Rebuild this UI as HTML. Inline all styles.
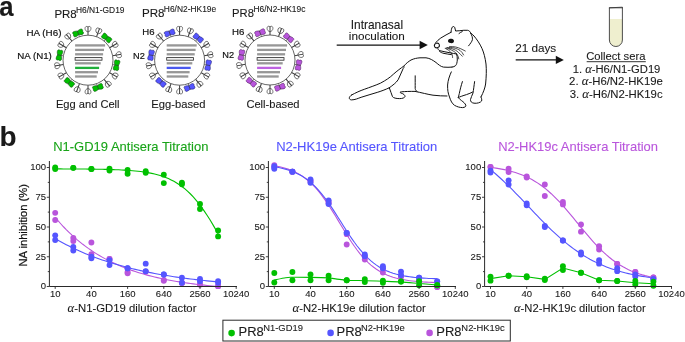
<!DOCTYPE html>
<html><head><meta charset="utf-8"><style>
html,body{margin:0;padding:0;background:#fff;}
svg{display:block;will-change:transform;font-family:"Liberation Sans",sans-serif;}
</style></head><body>
<svg width="685" height="342" viewBox="0 0 685 342">
<rect width="685" height="342" fill="#fff"/>
<g transform="translate(116.56,65.24) rotate(10.0)"><path d="M-1.8,0 C-2.5,-1.4 -3.0,-3.2 -2.6,-4.4 C-2.2,-5.4 -0.8,-5.4 0,-4.8 C0.8,-5.4 2.2,-5.4 2.6,-4.4 C3.0,-3.2 2.5,-1.4 1.8,0 C2.5,1.4 3.0,3.2 2.6,4.4 C2.2,5.4 0.8,5.4 0,4.8 C-0.8,5.4 -2.2,5.4 -2.6,4.4 C-3.0,3.2 -2.5,1.4 -1.8,0 Z" fill="#00c000" stroke="#0b4a0b" stroke-width="0.5"/><line x1="-4" y1="0" x2="2.4" y2="0" stroke="#333" stroke-width="0.6"/></g>
<g transform="translate(114.67,75.60) rotate(30.0)"><path d="M-2.3,-0.9 C-1.3,-2.8 0.9,-3.4 2.2,-2.7 C3.2,-2.1 3.2,-0.7 2.4,-0.3 L2.4,0.3 C3.2,0.7 3.2,2.1 2.2,2.7 C0.9,3.4 -1.3,2.8 -2.3,0.9 Z" fill="#fff" stroke="#333" stroke-width="0.65"/><line x1="-5.8" y1="0" x2="3.0" y2="0" stroke="#3a3a3a" stroke-width="1.0"/></g>
<g transform="translate(107.80,83.79) rotate(50.0)"><path d="M-2.3,-0.9 C-1.3,-2.8 0.9,-3.4 2.2,-2.7 C3.2,-2.1 3.2,-0.7 2.4,-0.3 L2.4,0.3 C3.2,0.7 3.2,2.1 2.2,2.7 C0.9,3.4 -1.3,2.8 -2.3,0.9 Z" fill="#fff" stroke="#333" stroke-width="0.65"/><line x1="-5.8" y1="0" x2="3.0" y2="0" stroke="#3a3a3a" stroke-width="1.0"/></g>
<g transform="translate(97.92,87.45) rotate(70.0)"><path d="M-1.8,0 C-2.5,-1.4 -3.0,-3.2 -2.6,-4.4 C-2.2,-5.4 -0.8,-5.4 0,-4.8 C0.8,-5.4 2.2,-5.4 2.6,-4.4 C3.0,-3.2 2.5,-1.4 1.8,0 C2.5,1.4 3.0,3.2 2.6,4.4 C2.2,5.4 0.8,5.4 0,4.8 C-0.8,5.4 -2.2,5.4 -2.6,4.4 C-3.0,3.2 -2.5,1.4 -1.8,0 Z" fill="#00c000" stroke="#0b4a0b" stroke-width="0.5"/><line x1="-4" y1="0" x2="2.4" y2="0" stroke="#333" stroke-width="0.6"/></g>
<g transform="translate(88.00,91.00) rotate(90.0)"><path d="M-2.3,-0.9 C-1.3,-2.8 0.9,-3.4 2.2,-2.7 C3.2,-2.1 3.2,-0.7 2.4,-0.3 L2.4,0.3 C3.2,0.7 3.2,2.1 2.2,2.7 C0.9,3.4 -1.3,2.8 -2.3,0.9 Z" fill="#fff" stroke="#333" stroke-width="0.65"/><line x1="-5.8" y1="0" x2="3.0" y2="0" stroke="#3a3a3a" stroke-width="1.0"/></g>
<g transform="translate(77.47,89.14) rotate(110.0)"><path d="M-2.3,-0.9 C-1.3,-2.8 0.9,-3.4 2.2,-2.7 C3.2,-2.1 3.2,-0.7 2.4,-0.3 L2.4,0.3 C3.2,0.7 3.2,2.1 2.2,2.7 C0.9,3.4 -1.3,2.8 -2.3,0.9 Z" fill="#fff" stroke="#333" stroke-width="0.65"/><line x1="-5.8" y1="0" x2="3.0" y2="0" stroke="#3a3a3a" stroke-width="1.0"/></g>
<g transform="translate(69.36,82.42) rotate(130.0)"><path d="M-1.8,0 C-2.5,-1.4 -3.0,-3.2 -2.6,-4.4 C-2.2,-5.4 -0.8,-5.4 0,-4.8 C0.8,-5.4 2.2,-5.4 2.6,-4.4 C3.0,-3.2 2.5,-1.4 1.8,0 C2.5,1.4 3.0,3.2 2.6,4.4 C2.2,5.4 0.8,5.4 0,4.8 C-0.8,5.4 -2.2,5.4 -2.6,4.4 C-3.0,3.2 -2.5,1.4 -1.8,0 Z" fill="#00c000" stroke="#0b4a0b" stroke-width="0.5"/><line x1="-4" y1="0" x2="2.4" y2="0" stroke="#333" stroke-width="0.6"/></g>
<g transform="translate(61.33,75.60) rotate(150.0)"><path d="M-2.3,-0.9 C-1.3,-2.8 0.9,-3.4 2.2,-2.7 C3.2,-2.1 3.2,-0.7 2.4,-0.3 L2.4,0.3 C3.2,0.7 3.2,2.1 2.2,2.7 C0.9,3.4 -1.3,2.8 -2.3,0.9 Z" fill="#fff" stroke="#333" stroke-width="0.65"/><line x1="-5.8" y1="0" x2="3.0" y2="0" stroke="#3a3a3a" stroke-width="1.0"/></g>
<g transform="translate(57.67,65.55) rotate(170.0)"><path d="M-2.3,-0.9 C-1.3,-2.8 0.9,-3.4 2.2,-2.7 C3.2,-2.1 3.2,-0.7 2.4,-0.3 L2.4,0.3 C3.2,0.7 3.2,2.1 2.2,2.7 C0.9,3.4 -1.3,2.8 -2.3,0.9 Z" fill="#fff" stroke="#333" stroke-width="0.65"/><line x1="-5.8" y1="0" x2="3.0" y2="0" stroke="#3a3a3a" stroke-width="1.0"/></g>
<g transform="translate(59.44,55.16) rotate(190.0)"><path d="M-1.8,0 C-2.5,-1.4 -3.0,-3.2 -2.6,-4.4 C-2.2,-5.4 -0.8,-5.4 0,-4.8 C0.8,-5.4 2.2,-5.4 2.6,-4.4 C3.0,-3.2 2.5,-1.4 1.8,0 C2.5,1.4 3.0,3.2 2.6,4.4 C2.2,5.4 0.8,5.4 0,4.8 C-0.8,5.4 -2.2,5.4 -2.6,4.4 C-3.0,3.2 -2.5,1.4 -1.8,0 Z" fill="#00c000" stroke="#0b4a0b" stroke-width="0.5"/><line x1="-4" y1="0" x2="2.4" y2="0" stroke="#333" stroke-width="0.6"/></g>
<g transform="translate(61.33,44.80) rotate(210.0)"><path d="M-2.3,-0.9 C-1.3,-2.8 0.9,-3.4 2.2,-2.7 C3.2,-2.1 3.2,-0.7 2.4,-0.3 L2.4,0.3 C3.2,0.7 3.2,2.1 2.2,2.7 C0.9,3.4 -1.3,2.8 -2.3,0.9 Z" fill="#fff" stroke="#333" stroke-width="0.65"/><line x1="-5.8" y1="0" x2="3.0" y2="0" stroke="#3a3a3a" stroke-width="1.0"/></g>
<g transform="translate(68.20,36.61) rotate(230.0)"><path d="M-2.3,-0.9 C-1.3,-2.8 0.9,-3.4 2.2,-2.7 C3.2,-2.1 3.2,-0.7 2.4,-0.3 L2.4,0.3 C3.2,0.7 3.2,2.1 2.2,2.7 C0.9,3.4 -1.3,2.8 -2.3,0.9 Z" fill="#fff" stroke="#333" stroke-width="0.65"/><line x1="-5.8" y1="0" x2="3.0" y2="0" stroke="#3a3a3a" stroke-width="1.0"/></g>
<g transform="translate(78.08,32.95) rotate(250.0)"><path d="M-1.8,0 C-2.5,-1.4 -3.0,-3.2 -2.6,-4.4 C-2.2,-5.4 -0.8,-5.4 0,-4.8 C0.8,-5.4 2.2,-5.4 2.6,-4.4 C3.0,-3.2 2.5,-1.4 1.8,0 C2.5,1.4 3.0,3.2 2.6,4.4 C2.2,5.4 0.8,5.4 0,4.8 C-0.8,5.4 -2.2,5.4 -2.6,4.4 C-3.0,3.2 -2.5,1.4 -1.8,0 Z" fill="#00c000" stroke="#0b4a0b" stroke-width="0.5"/><line x1="-4" y1="0" x2="2.4" y2="0" stroke="#333" stroke-width="0.6"/></g>
<g transform="translate(88.00,29.40) rotate(270.0)"><path d="M-2.3,-0.9 C-1.3,-2.8 0.9,-3.4 2.2,-2.7 C3.2,-2.1 3.2,-0.7 2.4,-0.3 L2.4,0.3 C3.2,0.7 3.2,2.1 2.2,2.7 C0.9,3.4 -1.3,2.8 -2.3,0.9 Z" fill="#fff" stroke="#333" stroke-width="0.65"/><line x1="-5.8" y1="0" x2="3.0" y2="0" stroke="#3a3a3a" stroke-width="1.0"/></g>
<g transform="translate(98.53,31.26) rotate(290.0)"><path d="M-2.3,-0.9 C-1.3,-2.8 0.9,-3.4 2.2,-2.7 C3.2,-2.1 3.2,-0.7 2.4,-0.3 L2.4,0.3 C3.2,0.7 3.2,2.1 2.2,2.7 C0.9,3.4 -1.3,2.8 -2.3,0.9 Z" fill="#fff" stroke="#333" stroke-width="0.65"/><line x1="-5.8" y1="0" x2="3.0" y2="0" stroke="#3a3a3a" stroke-width="1.0"/></g>
<g transform="translate(106.64,37.98) rotate(310.0)"><path d="M-1.8,0 C-2.5,-1.4 -3.0,-3.2 -2.6,-4.4 C-2.2,-5.4 -0.8,-5.4 0,-4.8 C0.8,-5.4 2.2,-5.4 2.6,-4.4 C3.0,-3.2 2.5,-1.4 1.8,0 C2.5,1.4 3.0,3.2 2.6,4.4 C2.2,5.4 0.8,5.4 0,4.8 C-0.8,5.4 -2.2,5.4 -2.6,4.4 C-3.0,3.2 -2.5,1.4 -1.8,0 Z" fill="#00c000" stroke="#0b4a0b" stroke-width="0.5"/><line x1="-4" y1="0" x2="2.4" y2="0" stroke="#333" stroke-width="0.6"/></g>
<g transform="translate(114.67,44.80) rotate(330.0)"><path d="M-2.3,-0.9 C-1.3,-2.8 0.9,-3.4 2.2,-2.7 C3.2,-2.1 3.2,-0.7 2.4,-0.3 L2.4,0.3 C3.2,0.7 3.2,2.1 2.2,2.7 C0.9,3.4 -1.3,2.8 -2.3,0.9 Z" fill="#fff" stroke="#333" stroke-width="0.65"/><line x1="-5.8" y1="0" x2="3.0" y2="0" stroke="#3a3a3a" stroke-width="1.0"/></g>
<g transform="translate(118.33,54.85) rotate(350.0)"><path d="M-2.3,-0.9 C-1.3,-2.8 0.9,-3.4 2.2,-2.7 C3.2,-2.1 3.2,-0.7 2.4,-0.3 L2.4,0.3 C3.2,0.7 3.2,2.1 2.2,2.7 C0.9,3.4 -1.3,2.8 -2.3,0.9 Z" fill="#fff" stroke="#333" stroke-width="0.65"/><line x1="-5.8" y1="0" x2="3.0" y2="0" stroke="#3a3a3a" stroke-width="1.0"/></g>
<circle cx="88.0" cy="60.2" r="25.0" fill="#fff" stroke="#333" stroke-width="0.75"/>
<rect x="75.10" y="44.25" width="30.00" height="2.3" fill="#979797"/>
<rect x="75.10" y="48.75" width="28.90" height="2.3" fill="#979797"/>
<rect x="75.10" y="53.15" width="28.00" height="2.3" fill="#979797"/>
<rect x="75.10" y="57.60" width="26.90" height="2.6" fill="#f0f0f0" stroke="#2a2a2a" stroke-width="0.8"/>
<rect x="75.10" y="62.15" width="25.60" height="2.3" fill="#979797"/>
<rect x="75.10" y="66.75" width="24.00" height="2.3" fill="#1fae3a"/>
<rect x="75.10" y="71.05" width="22.90" height="2.3" fill="#979797"/>
<rect x="75.10" y="75.35" width="21.60" height="2.3" fill="#979797"/>
<g transform="translate(208.16,65.24) rotate(10.0)"><path d="M-1.8,0 C-2.5,-1.4 -3.0,-3.2 -2.6,-4.4 C-2.2,-5.4 -0.8,-5.4 0,-4.8 C0.8,-5.4 2.2,-5.4 2.6,-4.4 C3.0,-3.2 2.5,-1.4 1.8,0 C2.5,1.4 3.0,3.2 2.6,4.4 C2.2,5.4 0.8,5.4 0,4.8 C-0.8,5.4 -2.2,5.4 -2.6,4.4 C-3.0,3.2 -2.5,1.4 -1.8,0 Z" fill="#5555ff" stroke="#1c1c6a" stroke-width="0.5"/><line x1="-4" y1="0" x2="2.4" y2="0" stroke="#333" stroke-width="0.6"/></g>
<g transform="translate(206.27,75.60) rotate(30.0)"><path d="M-2.3,-0.9 C-1.3,-2.8 0.9,-3.4 2.2,-2.7 C3.2,-2.1 3.2,-0.7 2.4,-0.3 L2.4,0.3 C3.2,0.7 3.2,2.1 2.2,2.7 C0.9,3.4 -1.3,2.8 -2.3,0.9 Z" fill="#fff" stroke="#333" stroke-width="0.65"/><line x1="-5.8" y1="0" x2="3.0" y2="0" stroke="#3a3a3a" stroke-width="1.0"/></g>
<g transform="translate(199.40,83.79) rotate(50.0)"><path d="M-2.3,-0.9 C-1.3,-2.8 0.9,-3.4 2.2,-2.7 C3.2,-2.1 3.2,-0.7 2.4,-0.3 L2.4,0.3 C3.2,0.7 3.2,2.1 2.2,2.7 C0.9,3.4 -1.3,2.8 -2.3,0.9 Z" fill="#fff" stroke="#333" stroke-width="0.65"/><line x1="-5.8" y1="0" x2="3.0" y2="0" stroke="#3a3a3a" stroke-width="1.0"/></g>
<g transform="translate(189.52,87.45) rotate(70.0)"><path d="M-1.8,0 C-2.5,-1.4 -3.0,-3.2 -2.6,-4.4 C-2.2,-5.4 -0.8,-5.4 0,-4.8 C0.8,-5.4 2.2,-5.4 2.6,-4.4 C3.0,-3.2 2.5,-1.4 1.8,0 C2.5,1.4 3.0,3.2 2.6,4.4 C2.2,5.4 0.8,5.4 0,4.8 C-0.8,5.4 -2.2,5.4 -2.6,4.4 C-3.0,3.2 -2.5,1.4 -1.8,0 Z" fill="#5555ff" stroke="#1c1c6a" stroke-width="0.5"/><line x1="-4" y1="0" x2="2.4" y2="0" stroke="#333" stroke-width="0.6"/></g>
<g transform="translate(179.60,91.00) rotate(90.0)"><path d="M-2.3,-0.9 C-1.3,-2.8 0.9,-3.4 2.2,-2.7 C3.2,-2.1 3.2,-0.7 2.4,-0.3 L2.4,0.3 C3.2,0.7 3.2,2.1 2.2,2.7 C0.9,3.4 -1.3,2.8 -2.3,0.9 Z" fill="#fff" stroke="#333" stroke-width="0.65"/><line x1="-5.8" y1="0" x2="3.0" y2="0" stroke="#3a3a3a" stroke-width="1.0"/></g>
<g transform="translate(169.07,89.14) rotate(110.0)"><path d="M-2.3,-0.9 C-1.3,-2.8 0.9,-3.4 2.2,-2.7 C3.2,-2.1 3.2,-0.7 2.4,-0.3 L2.4,0.3 C3.2,0.7 3.2,2.1 2.2,2.7 C0.9,3.4 -1.3,2.8 -2.3,0.9 Z" fill="#fff" stroke="#333" stroke-width="0.65"/><line x1="-5.8" y1="0" x2="3.0" y2="0" stroke="#3a3a3a" stroke-width="1.0"/></g>
<g transform="translate(160.96,82.42) rotate(130.0)"><path d="M-1.8,0 C-2.5,-1.4 -3.0,-3.2 -2.6,-4.4 C-2.2,-5.4 -0.8,-5.4 0,-4.8 C0.8,-5.4 2.2,-5.4 2.6,-4.4 C3.0,-3.2 2.5,-1.4 1.8,0 C2.5,1.4 3.0,3.2 2.6,4.4 C2.2,5.4 0.8,5.4 0,4.8 C-0.8,5.4 -2.2,5.4 -2.6,4.4 C-3.0,3.2 -2.5,1.4 -1.8,0 Z" fill="#5555ff" stroke="#1c1c6a" stroke-width="0.5"/><line x1="-4" y1="0" x2="2.4" y2="0" stroke="#333" stroke-width="0.6"/></g>
<g transform="translate(152.93,75.60) rotate(150.0)"><path d="M-2.3,-0.9 C-1.3,-2.8 0.9,-3.4 2.2,-2.7 C3.2,-2.1 3.2,-0.7 2.4,-0.3 L2.4,0.3 C3.2,0.7 3.2,2.1 2.2,2.7 C0.9,3.4 -1.3,2.8 -2.3,0.9 Z" fill="#fff" stroke="#333" stroke-width="0.65"/><line x1="-5.8" y1="0" x2="3.0" y2="0" stroke="#3a3a3a" stroke-width="1.0"/></g>
<g transform="translate(149.27,65.55) rotate(170.0)"><path d="M-2.3,-0.9 C-1.3,-2.8 0.9,-3.4 2.2,-2.7 C3.2,-2.1 3.2,-0.7 2.4,-0.3 L2.4,0.3 C3.2,0.7 3.2,2.1 2.2,2.7 C0.9,3.4 -1.3,2.8 -2.3,0.9 Z" fill="#fff" stroke="#333" stroke-width="0.65"/><line x1="-5.8" y1="0" x2="3.0" y2="0" stroke="#3a3a3a" stroke-width="1.0"/></g>
<g transform="translate(151.04,55.16) rotate(190.0)"><path d="M-1.8,0 C-2.5,-1.4 -3.0,-3.2 -2.6,-4.4 C-2.2,-5.4 -0.8,-5.4 0,-4.8 C0.8,-5.4 2.2,-5.4 2.6,-4.4 C3.0,-3.2 2.5,-1.4 1.8,0 C2.5,1.4 3.0,3.2 2.6,4.4 C2.2,5.4 0.8,5.4 0,4.8 C-0.8,5.4 -2.2,5.4 -2.6,4.4 C-3.0,3.2 -2.5,1.4 -1.8,0 Z" fill="#5555ff" stroke="#1c1c6a" stroke-width="0.5"/><line x1="-4" y1="0" x2="2.4" y2="0" stroke="#333" stroke-width="0.6"/></g>
<g transform="translate(152.93,44.80) rotate(210.0)"><path d="M-2.3,-0.9 C-1.3,-2.8 0.9,-3.4 2.2,-2.7 C3.2,-2.1 3.2,-0.7 2.4,-0.3 L2.4,0.3 C3.2,0.7 3.2,2.1 2.2,2.7 C0.9,3.4 -1.3,2.8 -2.3,0.9 Z" fill="#fff" stroke="#333" stroke-width="0.65"/><line x1="-5.8" y1="0" x2="3.0" y2="0" stroke="#3a3a3a" stroke-width="1.0"/></g>
<g transform="translate(159.80,36.61) rotate(230.0)"><path d="M-2.3,-0.9 C-1.3,-2.8 0.9,-3.4 2.2,-2.7 C3.2,-2.1 3.2,-0.7 2.4,-0.3 L2.4,0.3 C3.2,0.7 3.2,2.1 2.2,2.7 C0.9,3.4 -1.3,2.8 -2.3,0.9 Z" fill="#fff" stroke="#333" stroke-width="0.65"/><line x1="-5.8" y1="0" x2="3.0" y2="0" stroke="#3a3a3a" stroke-width="1.0"/></g>
<g transform="translate(169.68,32.95) rotate(250.0)"><path d="M-1.8,0 C-2.5,-1.4 -3.0,-3.2 -2.6,-4.4 C-2.2,-5.4 -0.8,-5.4 0,-4.8 C0.8,-5.4 2.2,-5.4 2.6,-4.4 C3.0,-3.2 2.5,-1.4 1.8,0 C2.5,1.4 3.0,3.2 2.6,4.4 C2.2,5.4 0.8,5.4 0,4.8 C-0.8,5.4 -2.2,5.4 -2.6,4.4 C-3.0,3.2 -2.5,1.4 -1.8,0 Z" fill="#5555ff" stroke="#1c1c6a" stroke-width="0.5"/><line x1="-4" y1="0" x2="2.4" y2="0" stroke="#333" stroke-width="0.6"/></g>
<g transform="translate(179.60,29.40) rotate(270.0)"><path d="M-2.3,-0.9 C-1.3,-2.8 0.9,-3.4 2.2,-2.7 C3.2,-2.1 3.2,-0.7 2.4,-0.3 L2.4,0.3 C3.2,0.7 3.2,2.1 2.2,2.7 C0.9,3.4 -1.3,2.8 -2.3,0.9 Z" fill="#fff" stroke="#333" stroke-width="0.65"/><line x1="-5.8" y1="0" x2="3.0" y2="0" stroke="#3a3a3a" stroke-width="1.0"/></g>
<g transform="translate(190.13,31.26) rotate(290.0)"><path d="M-2.3,-0.9 C-1.3,-2.8 0.9,-3.4 2.2,-2.7 C3.2,-2.1 3.2,-0.7 2.4,-0.3 L2.4,0.3 C3.2,0.7 3.2,2.1 2.2,2.7 C0.9,3.4 -1.3,2.8 -2.3,0.9 Z" fill="#fff" stroke="#333" stroke-width="0.65"/><line x1="-5.8" y1="0" x2="3.0" y2="0" stroke="#3a3a3a" stroke-width="1.0"/></g>
<g transform="translate(198.24,37.98) rotate(310.0)"><path d="M-1.8,0 C-2.5,-1.4 -3.0,-3.2 -2.6,-4.4 C-2.2,-5.4 -0.8,-5.4 0,-4.8 C0.8,-5.4 2.2,-5.4 2.6,-4.4 C3.0,-3.2 2.5,-1.4 1.8,0 C2.5,1.4 3.0,3.2 2.6,4.4 C2.2,5.4 0.8,5.4 0,4.8 C-0.8,5.4 -2.2,5.4 -2.6,4.4 C-3.0,3.2 -2.5,1.4 -1.8,0 Z" fill="#5555ff" stroke="#1c1c6a" stroke-width="0.5"/><line x1="-4" y1="0" x2="2.4" y2="0" stroke="#333" stroke-width="0.6"/></g>
<g transform="translate(206.27,44.80) rotate(330.0)"><path d="M-2.3,-0.9 C-1.3,-2.8 0.9,-3.4 2.2,-2.7 C3.2,-2.1 3.2,-0.7 2.4,-0.3 L2.4,0.3 C3.2,0.7 3.2,2.1 2.2,2.7 C0.9,3.4 -1.3,2.8 -2.3,0.9 Z" fill="#fff" stroke="#333" stroke-width="0.65"/><line x1="-5.8" y1="0" x2="3.0" y2="0" stroke="#3a3a3a" stroke-width="1.0"/></g>
<g transform="translate(209.93,54.85) rotate(350.0)"><path d="M-2.3,-0.9 C-1.3,-2.8 0.9,-3.4 2.2,-2.7 C3.2,-2.1 3.2,-0.7 2.4,-0.3 L2.4,0.3 C3.2,0.7 3.2,2.1 2.2,2.7 C0.9,3.4 -1.3,2.8 -2.3,0.9 Z" fill="#fff" stroke="#333" stroke-width="0.65"/><line x1="-5.8" y1="0" x2="3.0" y2="0" stroke="#3a3a3a" stroke-width="1.0"/></g>
<circle cx="179.6" cy="60.2" r="25.0" fill="#fff" stroke="#333" stroke-width="0.75"/>
<rect x="166.70" y="44.25" width="30.00" height="2.3" fill="#979797"/>
<rect x="166.70" y="48.75" width="28.90" height="2.3" fill="#979797"/>
<rect x="166.70" y="53.15" width="28.00" height="2.3" fill="#979797"/>
<rect x="166.70" y="57.60" width="26.90" height="2.6" fill="#f0f0f0" stroke="#2a2a2a" stroke-width="0.8"/>
<rect x="166.70" y="62.15" width="25.60" height="2.3" fill="#979797"/>
<rect x="166.70" y="66.75" width="24.00" height="2.3" fill="#4a58ee"/>
<rect x="166.70" y="71.05" width="22.90" height="2.3" fill="#979797"/>
<rect x="166.70" y="75.35" width="21.60" height="2.3" fill="#979797"/>
<g transform="translate(298.56,65.04) rotate(10.0)"><path d="M-1.8,0 C-2.5,-1.4 -3.0,-3.2 -2.6,-4.4 C-2.2,-5.4 -0.8,-5.4 0,-4.8 C0.8,-5.4 2.2,-5.4 2.6,-4.4 C3.0,-3.2 2.5,-1.4 1.8,0 C2.5,1.4 3.0,3.2 2.6,4.4 C2.2,5.4 0.8,5.4 0,4.8 C-0.8,5.4 -2.2,5.4 -2.6,4.4 C-3.0,3.2 -2.5,1.4 -1.8,0 Z" fill="#b955dc" stroke="#4a1a5a" stroke-width="0.5"/><line x1="-4" y1="0" x2="2.4" y2="0" stroke="#333" stroke-width="0.6"/></g>
<g transform="translate(296.67,75.40) rotate(30.0)"><path d="M-2.3,-0.9 C-1.3,-2.8 0.9,-3.4 2.2,-2.7 C3.2,-2.1 3.2,-0.7 2.4,-0.3 L2.4,0.3 C3.2,0.7 3.2,2.1 2.2,2.7 C0.9,3.4 -1.3,2.8 -2.3,0.9 Z" fill="#fff" stroke="#333" stroke-width="0.65"/><line x1="-5.8" y1="0" x2="3.0" y2="0" stroke="#3a3a3a" stroke-width="1.0"/></g>
<g transform="translate(289.80,83.59) rotate(50.0)"><path d="M-2.3,-0.9 C-1.3,-2.8 0.9,-3.4 2.2,-2.7 C3.2,-2.1 3.2,-0.7 2.4,-0.3 L2.4,0.3 C3.2,0.7 3.2,2.1 2.2,2.7 C0.9,3.4 -1.3,2.8 -2.3,0.9 Z" fill="#fff" stroke="#333" stroke-width="0.65"/><line x1="-5.8" y1="0" x2="3.0" y2="0" stroke="#3a3a3a" stroke-width="1.0"/></g>
<g transform="translate(279.92,87.25) rotate(70.0)"><path d="M-1.8,0 C-2.5,-1.4 -3.0,-3.2 -2.6,-4.4 C-2.2,-5.4 -0.8,-5.4 0,-4.8 C0.8,-5.4 2.2,-5.4 2.6,-4.4 C3.0,-3.2 2.5,-1.4 1.8,0 C2.5,1.4 3.0,3.2 2.6,4.4 C2.2,5.4 0.8,5.4 0,4.8 C-0.8,5.4 -2.2,5.4 -2.6,4.4 C-3.0,3.2 -2.5,1.4 -1.8,0 Z" fill="#b955dc" stroke="#4a1a5a" stroke-width="0.5"/><line x1="-4" y1="0" x2="2.4" y2="0" stroke="#333" stroke-width="0.6"/></g>
<g transform="translate(270.00,90.80) rotate(90.0)"><path d="M-2.3,-0.9 C-1.3,-2.8 0.9,-3.4 2.2,-2.7 C3.2,-2.1 3.2,-0.7 2.4,-0.3 L2.4,0.3 C3.2,0.7 3.2,2.1 2.2,2.7 C0.9,3.4 -1.3,2.8 -2.3,0.9 Z" fill="#fff" stroke="#333" stroke-width="0.65"/><line x1="-5.8" y1="0" x2="3.0" y2="0" stroke="#3a3a3a" stroke-width="1.0"/></g>
<g transform="translate(259.47,88.94) rotate(110.0)"><path d="M-2.3,-0.9 C-1.3,-2.8 0.9,-3.4 2.2,-2.7 C3.2,-2.1 3.2,-0.7 2.4,-0.3 L2.4,0.3 C3.2,0.7 3.2,2.1 2.2,2.7 C0.9,3.4 -1.3,2.8 -2.3,0.9 Z" fill="#fff" stroke="#333" stroke-width="0.65"/><line x1="-5.8" y1="0" x2="3.0" y2="0" stroke="#3a3a3a" stroke-width="1.0"/></g>
<g transform="translate(251.36,82.22) rotate(130.0)"><path d="M-1.8,0 C-2.5,-1.4 -3.0,-3.2 -2.6,-4.4 C-2.2,-5.4 -0.8,-5.4 0,-4.8 C0.8,-5.4 2.2,-5.4 2.6,-4.4 C3.0,-3.2 2.5,-1.4 1.8,0 C2.5,1.4 3.0,3.2 2.6,4.4 C2.2,5.4 0.8,5.4 0,4.8 C-0.8,5.4 -2.2,5.4 -2.6,4.4 C-3.0,3.2 -2.5,1.4 -1.8,0 Z" fill="#b955dc" stroke="#4a1a5a" stroke-width="0.5"/><line x1="-4" y1="0" x2="2.4" y2="0" stroke="#333" stroke-width="0.6"/></g>
<g transform="translate(243.33,75.40) rotate(150.0)"><path d="M-2.3,-0.9 C-1.3,-2.8 0.9,-3.4 2.2,-2.7 C3.2,-2.1 3.2,-0.7 2.4,-0.3 L2.4,0.3 C3.2,0.7 3.2,2.1 2.2,2.7 C0.9,3.4 -1.3,2.8 -2.3,0.9 Z" fill="#fff" stroke="#333" stroke-width="0.65"/><line x1="-5.8" y1="0" x2="3.0" y2="0" stroke="#3a3a3a" stroke-width="1.0"/></g>
<g transform="translate(239.67,65.35) rotate(170.0)"><path d="M-2.3,-0.9 C-1.3,-2.8 0.9,-3.4 2.2,-2.7 C3.2,-2.1 3.2,-0.7 2.4,-0.3 L2.4,0.3 C3.2,0.7 3.2,2.1 2.2,2.7 C0.9,3.4 -1.3,2.8 -2.3,0.9 Z" fill="#fff" stroke="#333" stroke-width="0.65"/><line x1="-5.8" y1="0" x2="3.0" y2="0" stroke="#3a3a3a" stroke-width="1.0"/></g>
<g transform="translate(241.44,54.96) rotate(190.0)"><path d="M-1.8,0 C-2.5,-1.4 -3.0,-3.2 -2.6,-4.4 C-2.2,-5.4 -0.8,-5.4 0,-4.8 C0.8,-5.4 2.2,-5.4 2.6,-4.4 C3.0,-3.2 2.5,-1.4 1.8,0 C2.5,1.4 3.0,3.2 2.6,4.4 C2.2,5.4 0.8,5.4 0,4.8 C-0.8,5.4 -2.2,5.4 -2.6,4.4 C-3.0,3.2 -2.5,1.4 -1.8,0 Z" fill="#b955dc" stroke="#4a1a5a" stroke-width="0.5"/><line x1="-4" y1="0" x2="2.4" y2="0" stroke="#333" stroke-width="0.6"/></g>
<g transform="translate(243.33,44.60) rotate(210.0)"><path d="M-2.3,-0.9 C-1.3,-2.8 0.9,-3.4 2.2,-2.7 C3.2,-2.1 3.2,-0.7 2.4,-0.3 L2.4,0.3 C3.2,0.7 3.2,2.1 2.2,2.7 C0.9,3.4 -1.3,2.8 -2.3,0.9 Z" fill="#fff" stroke="#333" stroke-width="0.65"/><line x1="-5.8" y1="0" x2="3.0" y2="0" stroke="#3a3a3a" stroke-width="1.0"/></g>
<g transform="translate(250.20,36.41) rotate(230.0)"><path d="M-2.3,-0.9 C-1.3,-2.8 0.9,-3.4 2.2,-2.7 C3.2,-2.1 3.2,-0.7 2.4,-0.3 L2.4,0.3 C3.2,0.7 3.2,2.1 2.2,2.7 C0.9,3.4 -1.3,2.8 -2.3,0.9 Z" fill="#fff" stroke="#333" stroke-width="0.65"/><line x1="-5.8" y1="0" x2="3.0" y2="0" stroke="#3a3a3a" stroke-width="1.0"/></g>
<g transform="translate(260.08,32.75) rotate(250.0)"><path d="M-1.8,0 C-2.5,-1.4 -3.0,-3.2 -2.6,-4.4 C-2.2,-5.4 -0.8,-5.4 0,-4.8 C0.8,-5.4 2.2,-5.4 2.6,-4.4 C3.0,-3.2 2.5,-1.4 1.8,0 C2.5,1.4 3.0,3.2 2.6,4.4 C2.2,5.4 0.8,5.4 0,4.8 C-0.8,5.4 -2.2,5.4 -2.6,4.4 C-3.0,3.2 -2.5,1.4 -1.8,0 Z" fill="#b955dc" stroke="#4a1a5a" stroke-width="0.5"/><line x1="-4" y1="0" x2="2.4" y2="0" stroke="#333" stroke-width="0.6"/></g>
<g transform="translate(270.00,29.20) rotate(270.0)"><path d="M-2.3,-0.9 C-1.3,-2.8 0.9,-3.4 2.2,-2.7 C3.2,-2.1 3.2,-0.7 2.4,-0.3 L2.4,0.3 C3.2,0.7 3.2,2.1 2.2,2.7 C0.9,3.4 -1.3,2.8 -2.3,0.9 Z" fill="#fff" stroke="#333" stroke-width="0.65"/><line x1="-5.8" y1="0" x2="3.0" y2="0" stroke="#3a3a3a" stroke-width="1.0"/></g>
<g transform="translate(280.53,31.06) rotate(290.0)"><path d="M-2.3,-0.9 C-1.3,-2.8 0.9,-3.4 2.2,-2.7 C3.2,-2.1 3.2,-0.7 2.4,-0.3 L2.4,0.3 C3.2,0.7 3.2,2.1 2.2,2.7 C0.9,3.4 -1.3,2.8 -2.3,0.9 Z" fill="#fff" stroke="#333" stroke-width="0.65"/><line x1="-5.8" y1="0" x2="3.0" y2="0" stroke="#3a3a3a" stroke-width="1.0"/></g>
<g transform="translate(288.64,37.78) rotate(310.0)"><path d="M-1.8,0 C-2.5,-1.4 -3.0,-3.2 -2.6,-4.4 C-2.2,-5.4 -0.8,-5.4 0,-4.8 C0.8,-5.4 2.2,-5.4 2.6,-4.4 C3.0,-3.2 2.5,-1.4 1.8,0 C2.5,1.4 3.0,3.2 2.6,4.4 C2.2,5.4 0.8,5.4 0,4.8 C-0.8,5.4 -2.2,5.4 -2.6,4.4 C-3.0,3.2 -2.5,1.4 -1.8,0 Z" fill="#b955dc" stroke="#4a1a5a" stroke-width="0.5"/><line x1="-4" y1="0" x2="2.4" y2="0" stroke="#333" stroke-width="0.6"/></g>
<g transform="translate(296.67,44.60) rotate(330.0)"><path d="M-2.3,-0.9 C-1.3,-2.8 0.9,-3.4 2.2,-2.7 C3.2,-2.1 3.2,-0.7 2.4,-0.3 L2.4,0.3 C3.2,0.7 3.2,2.1 2.2,2.7 C0.9,3.4 -1.3,2.8 -2.3,0.9 Z" fill="#fff" stroke="#333" stroke-width="0.65"/><line x1="-5.8" y1="0" x2="3.0" y2="0" stroke="#3a3a3a" stroke-width="1.0"/></g>
<g transform="translate(300.33,54.65) rotate(350.0)"><path d="M-2.3,-0.9 C-1.3,-2.8 0.9,-3.4 2.2,-2.7 C3.2,-2.1 3.2,-0.7 2.4,-0.3 L2.4,0.3 C3.2,0.7 3.2,2.1 2.2,2.7 C0.9,3.4 -1.3,2.8 -2.3,0.9 Z" fill="#fff" stroke="#333" stroke-width="0.65"/><line x1="-5.8" y1="0" x2="3.0" y2="0" stroke="#3a3a3a" stroke-width="1.0"/></g>
<circle cx="270.0" cy="60.0" r="25.0" fill="#fff" stroke="#333" stroke-width="0.75"/>
<rect x="257.10" y="44.25" width="30.00" height="2.3" fill="#979797"/>
<rect x="257.10" y="48.75" width="28.90" height="2.3" fill="#979797"/>
<rect x="257.10" y="53.15" width="28.00" height="2.3" fill="#979797"/>
<rect x="257.10" y="57.60" width="26.90" height="2.6" fill="#f0f0f0" stroke="#2a2a2a" stroke-width="0.8"/>
<rect x="257.10" y="62.15" width="25.60" height="2.3" fill="#979797"/>
<rect x="257.10" y="66.75" width="24.00" height="2.3" fill="#bd62e0"/>
<rect x="257.10" y="71.05" width="22.90" height="2.3" fill="#979797"/>
<rect x="257.10" y="75.35" width="21.60" height="2.3" fill="#979797"/>
<line x1="336.7" y1="45.1" x2="421" y2="45.1" stroke="#111" stroke-width="1.3"/>
<path d="M419.6,40.7 L427.8,45.1 L419.6,49.3 Z" fill="#111"/>
<line x1="515.7" y1="59.9" x2="557" y2="59.9" stroke="#111" stroke-width="1.3"/>
<path d="M555.8,55.8 L563.8,59.9 L555.8,64.1 Z" fill="#111"/>

<g fill="none" stroke="#111" stroke-width="1.0" stroke-linecap="round" stroke-linejoin="round">
<!-- tail + back -->
<path d="M351.4,95.1 C356,92.6 360,90.8 364.3,89.3 C370,87.2 376,85.2 380.4,83.2 C386,80.2 390,77.5 393.3,74.3 C397,71 401,68 403.8,66.1 C406,63.5 408.5,61.5 411,60 C414,58.6 417,58 420,57.8 C422,57.7 424,57.7 426,57.8 C430,58.3 433,60.3 436,62.5 C438.5,64.5 440.5,66.6 443.5,67.1 C446.5,67.4 449.5,67.3 452,67.1"/>
<path d="M351.4,95.1 C348.5,97 348.6,99.5 351.4,99.9 C355,99.9 358,98.4 361.1,97.3 C366,95.7 372,94 377.2,92.4 C381,91.2 385,89.8 389.3,87.8"/>
<path d="M389.3,87.8 C393,85 396,83 398.1,79.8 C400,76 401.5,72 403.2,68.5 C404,67.5 404.2,67 404,66.5"/>
<!-- hind leg -->
<path d="M389.3,87.8 C390.5,91 391.5,94 392.5,96.7 C393.5,98 396,98.6 399.7,98.6 C402.5,98.6 404.6,97.8 405,96.5 C405,95 403.5,93.8 401,93 C399.5,92.5 399.8,92 401.5,91.8 C405,91.5 410,91.3 415,91.4 C421,92.5 428,94.5 433,95.2 C438,95.8 443,96 447,96"/>
<path d="M415.2,75.8 C415.2,80 415.2,85 415.2,88.5 C415.4,90 416,90.8 417,91.3"/>
<!-- front legs -->
<path d="M451.3,71.9 C449.5,76 448,80 447.6,85 C447.5,90 448,93 449.5,97 C450.8,101 452,103.5 454.5,105.3 C457,106.8 460,107.6 462.5,107.6 C465,107.4 466.2,106.5 465.8,105.2 C465.2,103.5 463.5,102 461.5,100.6 C460,99.4 458.8,98.5 458.2,97.6"/>
<path d="M462.4,81.6 C461,86 460,90 459.3,93.5 C458.8,95.5 458.5,97 458.2,97.6 C460,96.8 463,95.6 466.5,94.6 C469,93.7 471,93 472.5,92.1"/>
<path d="M474.6,81.6 C474,86 473.5,90 473,93 C472,95.5 471,97.5 470.5,99.5 C470.3,101.5 471.5,102.8 474,103.2 C477,103.6 480.5,102.6 481.6,101 C482,99.5 481.5,98 481,97"/>
<!-- chest / back of neck -->
<path d="M481,97 C483.5,92 485,88 485.6,84 C486.3,77 486.6,70 486,64 C485.2,58 484,53 482,48.5 C480,44 477,39.5 474,36 C472.8,34.6 471.8,33.8 470.8,33.2"/>
<!-- head -->
<path d="M451,32.3 C451.2,30 451.6,28.2 452.3,27.1 C452.9,26.3 454.1,26.3 454.6,27.2 C455.1,28.3 455.3,29.8 455.6,31 C457,30.9 458.5,30.9 459.8,30.7 C462.5,30.3 465.3,30.1 467.7,30.3 C469.2,30.6 470.2,31.6 470.8,33.2"/>
<path d="M459,33.5 C460,32.7 461,32.1 462.2,31.6"/>
<path d="M470.7,33.4 C471.9,35.2 472.7,37.6 472.4,39.7 C471.9,41.7 470.3,43.6 468.6,45.8"/>
<path d="M451,32.3 C448,33.8 444,36 440.8,38 C438.8,39.4 437,41 435.6,42.8"/>
<ellipse cx="436.9" cy="45.5" rx="2.55" ry="2.25" transform="rotate(-20 436.9 45.5)" fill="#fff"/>
<path d="M437.6,47.8 C437.9,49.2 438.5,50.2 439.8,50.7 C443,51.5 447,52.2 450,52.8 C452.5,53.3 454.8,53.7 456.6,54"/>
<path d="M439.4,51.2 C440.5,52.3 442,53 444,53.4 C446.5,53.9 449,54.3 451.3,54.6"/>
<!-- whiskers -->
<g stroke-width="0.75">
<path d="M445.2,48.3 C448,48.2 450.3,48.3 452.2,48.8 C454.8,49.6 456.8,50.8 458.3,52.3 C459.9,53.8 461.3,55 462.3,56.2"/>
<path d="M446.9,47.5 C449.5,47.4 451.8,47.5 453.9,47.9 C456.5,48.6 458.5,49.4 460.1,50.5 C461.7,51.8 462.8,53.2 463.6,54.9"/>
<path d="M449.5,46.6 C451.7,46.5 453.8,46.6 455.7,47 C457.7,47.5 459.4,48.1 460.9,48.8 C462.6,49.6 464,50.3 465.3,51"/>
<path d="M446,48.8 C447.6,49.5 449,50.4 450,51.4 C451.2,52.6 451.9,53.7 452.2,54.9 C452.5,55.8 452.6,56.7 452.6,57.5"/>
<path d="M448.7,48.8 C450.5,49.6 452.3,50.4 453.9,51.4 C455.5,52.5 456.6,53.6 457.4,54.9 C458.1,56.2 458.6,57.5 458.8,58.9"/>
</g>
<!-- neck front + body join -->
<path d="M456.6,54 C457.1,55.6 457.4,57.8 457.3,60 C457.1,62.5 456.7,64.4 455.7,65.5 C454.7,66.5 453.4,67 452,67.1"/>
</g>
<ellipse cx="451" cy="40.9" rx="3.0" ry="2.2" transform="rotate(10 451 40.9)" fill="#111"/>

<path d="M609.4,19 V40 A6.5,6.5 0 0 0 622.4,40 V19 Z" fill="#efefcf"/>
<path d="M609.4,7.8 V40 A6.5,6.5 0 0 0 622.4,40 V7.2 Z" fill="none" stroke="#3a3a3a" stroke-width="0.9"/>
<line x1="608.9" y1="7.8" x2="622.9" y2="7.8" stroke="#3a3a3a" stroke-width="0.9"/>
<line x1="586.7" y1="61.7" x2="645.8" y2="61.7" stroke="#1e1e1e" stroke-width="0.9"/>
<path d="M55.20,168.91 L57.96,168.91 L60.72,168.92 L63.48,168.93 L66.24,168.94 L69.01,168.95 L71.77,168.96 L74.53,168.97 L77.29,168.99 L80.05,169.01 L82.81,169.03 L85.57,169.05 L88.33,169.08 L91.09,169.11 L93.85,169.15 L96.62,169.19 L99.38,169.23 L102.14,169.29 L104.90,169.35 L107.66,169.42 L110.42,169.50 L113.18,169.59 L115.94,169.69 L118.70,169.81 L121.46,169.94 L124.23,170.09 L126.99,170.26 L129.75,170.46 L132.51,170.69 L135.27,170.94 L138.03,171.23 L140.79,171.57 L143.55,171.94 L146.31,172.37 L149.07,172.86 L151.84,173.41 L154.60,174.03 L157.36,174.74 L160.12,175.54 L162.88,176.44 L165.64,177.46 L168.40,178.61 L171.16,179.89 L173.92,181.33 L176.68,182.94 L179.45,184.73 L182.21,186.72 L184.97,188.92 L187.73,191.35 L190.49,194.01 L193.25,196.92 L196.01,200.08 L198.77,203.50 L201.53,207.16 L204.29,211.08 L207.06,215.22 L209.82,219.58 L212.58,224.13 L215.34,228.85 L218.10,233.68" fill="none" stroke="#00c000" stroke-width="1.1"/>
<path d="M55.20,217.36 L57.96,220.64 L60.72,223.76 L63.48,226.75 L66.24,229.61 L69.01,232.34 L71.77,234.96 L74.53,237.45 L77.29,239.84 L80.05,242.12 L82.81,244.31 L85.57,246.39 L88.33,248.39 L91.09,250.29 L93.85,252.11 L96.62,253.86 L99.38,255.52 L102.14,257.11 L104.90,258.64 L107.66,260.09 L110.42,261.48 L113.18,262.81 L115.94,264.08 L118.70,265.30 L121.46,266.46 L124.23,267.57 L126.99,268.63 L129.75,269.65 L132.51,270.62 L135.27,271.55 L138.03,272.43 L140.79,273.28 L143.55,274.09 L146.31,274.87 L149.07,275.61 L151.84,276.32 L154.60,276.99 L157.36,277.64 L160.12,278.26 L162.88,278.85 L165.64,279.42 L168.40,279.96 L171.16,280.47 L173.92,280.97 L176.68,281.44 L179.45,281.89 L182.21,282.32 L184.97,282.73 L187.73,283.13 L190.49,283.51 L193.25,283.87 L196.01,284.21 L198.77,284.54 L201.53,284.86 L204.29,285.16 L207.06,285.44 L209.82,285.72 L212.58,285.98 L215.34,286.23 L218.10,286.47" fill="none" stroke="#b955dc" stroke-width="1.1"/>
<path d="M55.20,238.58 L57.96,240.18 L60.72,241.72 L63.48,243.22 L66.24,244.67 L69.01,246.08 L71.77,247.44 L74.53,248.76 L77.29,250.04 L80.05,251.28 L82.81,252.48 L85.57,253.64 L88.33,254.77 L91.09,255.86 L93.85,256.92 L96.62,257.94 L99.38,258.93 L102.14,259.90 L104.90,260.83 L107.66,261.73 L110.42,262.61 L113.18,263.46 L115.94,264.28 L118.70,265.07 L121.46,265.84 L124.23,266.59 L126.99,267.32 L129.75,268.02 L132.51,268.70 L135.27,269.36 L138.03,269.99 L140.79,270.61 L143.55,271.21 L146.31,271.79 L149.07,272.36 L151.84,272.90 L154.60,273.43 L157.36,273.94 L160.12,274.44 L162.88,274.92 L165.64,275.38 L168.40,275.83 L171.16,276.27 L173.92,276.69 L176.68,277.10 L179.45,277.50 L182.21,277.89 L184.97,278.26 L187.73,278.62 L190.49,278.97 L193.25,279.31 L196.01,279.64 L198.77,279.96 L201.53,280.27 L204.29,280.56 L207.06,280.85 L209.82,281.13 L212.58,281.41 L215.34,281.67 L218.10,281.93" fill="none" stroke="#5555ff" stroke-width="1.1"/>
<circle cx="55.20" cy="212.84" r="2.95" fill="#b955dc"/>
<circle cx="55.20" cy="219.98" r="2.95" fill="#b955dc"/>
<circle cx="73.30" cy="237.83" r="2.95" fill="#b955dc"/>
<circle cx="73.30" cy="241.04" r="2.95" fill="#b955dc"/>
<circle cx="91.40" cy="242.47" r="2.95" fill="#b955dc"/>
<circle cx="91.40" cy="254.13" r="2.95" fill="#b955dc"/>
<circle cx="109.50" cy="259.01" r="2.95" fill="#b955dc"/>
<circle cx="109.50" cy="259.01" r="2.95" fill="#b955dc"/>
<circle cx="127.60" cy="273.29" r="2.95" fill="#b955dc"/>
<circle cx="127.60" cy="271.98" r="2.95" fill="#b955dc"/>
<circle cx="145.70" cy="271.62" r="2.95" fill="#b955dc"/>
<circle cx="145.70" cy="271.62" r="2.95" fill="#b955dc"/>
<circle cx="163.80" cy="279.84" r="2.95" fill="#b955dc"/>
<circle cx="163.80" cy="280.79" r="2.95" fill="#b955dc"/>
<circle cx="181.90" cy="282.93" r="2.95" fill="#b955dc"/>
<circle cx="181.90" cy="282.93" r="2.95" fill="#b955dc"/>
<circle cx="200.00" cy="284.48" r="2.95" fill="#b955dc"/>
<circle cx="200.00" cy="284.48" r="2.95" fill="#b955dc"/>
<circle cx="218.10" cy="286.14" r="2.95" fill="#b955dc"/>
<circle cx="218.10" cy="286.14" r="2.95" fill="#b955dc"/>
<circle cx="55.20" cy="235.33" r="2.95" fill="#5555ff"/>
<circle cx="55.20" cy="239.97" r="2.95" fill="#5555ff"/>
<circle cx="73.30" cy="246.99" r="2.95" fill="#5555ff"/>
<circle cx="73.30" cy="250.56" r="2.95" fill="#5555ff"/>
<circle cx="91.40" cy="256.63" r="2.95" fill="#5555ff"/>
<circle cx="91.40" cy="258.30" r="2.95" fill="#5555ff"/>
<circle cx="109.50" cy="260.32" r="2.95" fill="#5555ff"/>
<circle cx="109.50" cy="265.08" r="2.95" fill="#5555ff"/>
<circle cx="127.60" cy="268.29" r="2.95" fill="#5555ff"/>
<circle cx="127.60" cy="268.29" r="2.95" fill="#5555ff"/>
<circle cx="145.70" cy="263.65" r="2.95" fill="#5555ff"/>
<circle cx="145.70" cy="271.15" r="2.95" fill="#5555ff"/>
<circle cx="163.80" cy="274.48" r="2.95" fill="#5555ff"/>
<circle cx="163.80" cy="274.48" r="2.95" fill="#5555ff"/>
<circle cx="181.90" cy="277.81" r="2.95" fill="#5555ff"/>
<circle cx="181.90" cy="282.81" r="2.95" fill="#5555ff"/>
<circle cx="200.00" cy="279.00" r="2.95" fill="#5555ff"/>
<circle cx="200.00" cy="281.14" r="2.95" fill="#5555ff"/>
<circle cx="218.10" cy="281.14" r="2.95" fill="#5555ff"/>
<circle cx="218.10" cy="282.81" r="2.95" fill="#5555ff"/>
<circle cx="55.20" cy="167.50" r="2.95" fill="#00c000"/>
<circle cx="55.20" cy="169.05" r="2.95" fill="#00c000"/>
<circle cx="73.30" cy="167.86" r="2.95" fill="#00c000"/>
<circle cx="73.30" cy="167.86" r="2.95" fill="#00c000"/>
<circle cx="91.40" cy="169.05" r="2.95" fill="#00c000"/>
<circle cx="91.40" cy="169.05" r="2.95" fill="#00c000"/>
<circle cx="109.50" cy="168.81" r="2.95" fill="#00c000"/>
<circle cx="109.50" cy="170.48" r="2.95" fill="#00c000"/>
<circle cx="127.60" cy="170.00" r="2.95" fill="#00c000"/>
<circle cx="127.60" cy="173.81" r="2.95" fill="#00c000"/>
<circle cx="145.70" cy="171.31" r="2.95" fill="#00c000"/>
<circle cx="145.70" cy="172.86" r="2.95" fill="#00c000"/>
<circle cx="163.80" cy="174.64" r="2.95" fill="#00c000"/>
<circle cx="163.80" cy="183.09" r="2.95" fill="#00c000"/>
<circle cx="181.90" cy="182.61" r="2.95" fill="#00c000"/>
<circle cx="181.90" cy="184.28" r="2.95" fill="#00c000"/>
<circle cx="200.00" cy="204.03" r="2.95" fill="#00c000"/>
<circle cx="200.00" cy="209.03" r="2.95" fill="#00c000"/>
<circle cx="218.10" cy="230.45" r="2.95" fill="#00c000"/>
<circle cx="218.10" cy="236.40" r="2.95" fill="#00c000"/>
<path d="M49.40,161.0 V286.50 H237.00" fill="none" stroke="#2a2a2a" stroke-width="1"/>
<line x1="46.80" y1="286.50" x2="49.40" y2="286.50" stroke="#2a2a2a" stroke-width="0.9"/>
<text x="46.00" y="289.30" font-size="9.5" text-anchor="end" fill="#1a1a1a" stroke="#1a1a1a" stroke-width="0.1">0</text>
<line x1="47.80" y1="271.62" x2="49.40" y2="271.62" stroke="#2a2a2a" stroke-width="0.9"/>
<line x1="46.80" y1="256.75" x2="49.40" y2="256.75" stroke="#2a2a2a" stroke-width="0.9"/>
<text x="46.00" y="259.55" font-size="9.5" text-anchor="end" fill="#1a1a1a" stroke="#1a1a1a" stroke-width="0.1">25</text>
<line x1="47.80" y1="241.88" x2="49.40" y2="241.88" stroke="#2a2a2a" stroke-width="0.9"/>
<line x1="46.80" y1="227.00" x2="49.40" y2="227.00" stroke="#2a2a2a" stroke-width="0.9"/>
<text x="46.00" y="229.80" font-size="9.5" text-anchor="end" fill="#1a1a1a" stroke="#1a1a1a" stroke-width="0.1">50</text>
<line x1="47.80" y1="212.12" x2="49.40" y2="212.12" stroke="#2a2a2a" stroke-width="0.9"/>
<line x1="46.80" y1="197.25" x2="49.40" y2="197.25" stroke="#2a2a2a" stroke-width="0.9"/>
<text x="46.00" y="200.05" font-size="9.5" text-anchor="end" fill="#1a1a1a" stroke="#1a1a1a" stroke-width="0.1">75</text>
<line x1="47.80" y1="182.38" x2="49.40" y2="182.38" stroke="#2a2a2a" stroke-width="0.9"/>
<line x1="46.80" y1="167.50" x2="49.40" y2="167.50" stroke="#2a2a2a" stroke-width="0.9"/>
<text x="46.00" y="170.30" font-size="9.5" text-anchor="end" fill="#1a1a1a" stroke="#1a1a1a" stroke-width="0.1">100</text>
<line x1="55.20" y1="286.50" x2="55.20" y2="288.90" stroke="#2a2a2a" stroke-width="0.9"/>
<text x="55.20" y="297.00" font-size="9.5" text-anchor="middle" fill="#1a1a1a" stroke="#1a1a1a" stroke-width="0.1">10</text>
<line x1="91.40" y1="286.50" x2="91.40" y2="288.90" stroke="#2a2a2a" stroke-width="0.9"/>
<text x="91.40" y="297.00" font-size="9.5" text-anchor="middle" fill="#1a1a1a" stroke="#1a1a1a" stroke-width="0.1">40</text>
<line x1="127.60" y1="286.50" x2="127.60" y2="288.90" stroke="#2a2a2a" stroke-width="0.9"/>
<text x="127.60" y="297.00" font-size="9.5" text-anchor="middle" fill="#1a1a1a" stroke="#1a1a1a" stroke-width="0.1">160</text>
<line x1="163.80" y1="286.50" x2="163.80" y2="288.90" stroke="#2a2a2a" stroke-width="0.9"/>
<text x="163.80" y="297.00" font-size="9.5" text-anchor="middle" fill="#1a1a1a" stroke="#1a1a1a" stroke-width="0.1">640</text>
<line x1="200.00" y1="286.50" x2="200.00" y2="288.90" stroke="#2a2a2a" stroke-width="0.9"/>
<text x="200.00" y="297.00" font-size="9.5" text-anchor="middle" fill="#1a1a1a" stroke="#1a1a1a" stroke-width="0.1">2560</text>
<line x1="236.20" y1="286.50" x2="236.20" y2="288.90" stroke="#2a2a2a" stroke-width="0.9"/>
<text x="236.20" y="297.00" font-size="9.5" text-anchor="middle" fill="#1a1a1a" stroke="#1a1a1a" stroke-width="0.1">10240</text>
<path d="M274.30,280.00 C276.20,279.62 282.70,278.15 285.70,277.70 C288.70,277.25 288.13,277.35 292.30,277.30 C296.47,277.25 304.78,277.30 310.70,277.40 C316.62,277.50 323.42,277.62 327.80,277.90 C332.18,278.18 333.83,278.72 337.00,279.10 C340.17,279.48 343.63,279.97 346.80,280.20 C349.97,280.43 352.97,280.42 356.00,280.50 C359.03,280.58 360.50,280.58 365.00,280.70 C369.50,280.82 377.00,281.00 383.00,281.20 C389.00,281.40 394.92,281.52 401.00,281.90 C407.08,282.28 413.47,282.98 419.50,283.50 C425.53,284.02 434.25,284.75 437.20,285.00" fill="none" stroke="#00c000" stroke-width="1.1"/>
<path d="M274.30,165.69 L277.06,166.20 L279.82,166.79 L282.58,167.46 L285.34,168.24 L288.11,169.13 L290.87,170.15 L293.63,171.32 L296.39,172.65 L299.15,174.17 L301.91,175.88 L304.67,177.80 L307.43,179.96 L310.19,182.36 L312.95,185.03 L315.72,187.96 L318.48,191.16 L321.24,194.63 L324.00,198.36 L326.76,202.32 L329.52,206.50 L332.28,210.85 L335.04,215.33 L337.80,219.90 L340.56,224.50 L343.33,229.09 L346.09,233.60 L348.85,237.99 L351.61,242.22 L354.37,246.24 L357.13,250.04 L359.89,253.58 L362.65,256.85 L365.41,259.86 L368.17,262.59 L370.94,265.07 L373.70,267.29 L376.46,269.28 L379.22,271.05 L381.98,272.61 L384.74,273.99 L387.50,275.20 L390.26,276.26 L393.02,277.19 L395.78,277.99 L398.55,278.70 L401.31,279.31 L404.07,279.83 L406.83,280.29 L409.59,280.69 L412.35,281.03 L415.11,281.32 L417.87,281.58 L420.63,281.80 L423.39,281.98 L426.16,282.15 L428.92,282.29 L431.68,282.41 L434.44,282.51 L437.20,282.60" fill="none" stroke="#b955dc" stroke-width="1.1"/>
<path d="M274.30,166.82 L277.06,167.28 L279.82,167.81 L282.58,168.43 L285.34,169.13 L288.11,169.95 L290.87,170.88 L293.63,171.94 L296.39,173.15 L299.15,174.53 L301.91,176.08 L304.67,177.84 L307.43,179.81 L310.19,182.01 L312.95,184.45 L315.72,187.14 L318.48,190.09 L321.24,193.29 L324.00,196.74 L326.76,200.42 L329.52,204.31 L332.28,208.39 L335.04,212.61 L337.80,216.93 L340.56,221.30 L343.33,225.68 L346.09,230.01 L348.85,234.24 L351.61,238.34 L354.37,242.26 L357.13,245.98 L359.89,249.46 L362.65,252.70 L365.41,255.68 L368.17,258.41 L370.94,260.89 L373.70,263.12 L376.46,265.12 L379.22,266.91 L381.98,268.50 L384.74,269.90 L387.50,271.13 L390.26,272.22 L393.02,273.16 L395.78,273.99 L398.55,274.71 L401.31,275.34 L404.07,275.89 L406.83,276.36 L409.59,276.77 L412.35,277.12 L415.11,277.43 L417.87,277.69 L420.63,277.92 L423.39,278.11 L426.16,278.28 L428.92,278.43 L431.68,278.55 L434.44,278.66 L437.20,278.75" fill="none" stroke="#5555ff" stroke-width="1.1"/>
<circle cx="274.30" cy="165.12" r="2.95" fill="#b955dc"/>
<circle cx="274.30" cy="167.50" r="2.95" fill="#b955dc"/>
<circle cx="292.40" cy="171.67" r="2.95" fill="#b955dc"/>
<circle cx="292.40" cy="171.67" r="2.95" fill="#b955dc"/>
<circle cx="310.50" cy="180.59" r="2.95" fill="#b955dc"/>
<circle cx="310.50" cy="181.78" r="2.95" fill="#b955dc"/>
<circle cx="328.60" cy="202.01" r="2.95" fill="#b955dc"/>
<circle cx="328.60" cy="203.20" r="2.95" fill="#b955dc"/>
<circle cx="346.70" cy="244.49" r="2.95" fill="#b955dc"/>
<circle cx="346.70" cy="234.14" r="2.95" fill="#b955dc"/>
<circle cx="364.80" cy="259.49" r="2.95" fill="#b955dc"/>
<circle cx="364.80" cy="256.75" r="2.95" fill="#b955dc"/>
<circle cx="382.90" cy="272.46" r="2.95" fill="#b955dc"/>
<circle cx="382.90" cy="268.65" r="2.95" fill="#b955dc"/>
<circle cx="401.00" cy="276.38" r="2.95" fill="#b955dc"/>
<circle cx="401.00" cy="276.38" r="2.95" fill="#b955dc"/>
<circle cx="419.10" cy="281.50" r="2.95" fill="#b955dc"/>
<circle cx="419.10" cy="281.50" r="2.95" fill="#b955dc"/>
<circle cx="437.20" cy="286.98" r="2.95" fill="#b955dc"/>
<circle cx="437.20" cy="286.98" r="2.95" fill="#b955dc"/>
<circle cx="274.30" cy="166.31" r="2.95" fill="#5555ff"/>
<circle cx="274.30" cy="168.69" r="2.95" fill="#5555ff"/>
<circle cx="292.40" cy="171.67" r="2.95" fill="#5555ff"/>
<circle cx="292.40" cy="171.67" r="2.95" fill="#5555ff"/>
<circle cx="310.50" cy="179.52" r="2.95" fill="#5555ff"/>
<circle cx="310.50" cy="182.73" r="2.95" fill="#5555ff"/>
<circle cx="328.60" cy="200.34" r="2.95" fill="#5555ff"/>
<circle cx="328.60" cy="204.03" r="2.95" fill="#5555ff"/>
<circle cx="346.70" cy="232.83" r="2.95" fill="#5555ff"/>
<circle cx="346.70" cy="232.83" r="2.95" fill="#5555ff"/>
<circle cx="364.80" cy="254.49" r="2.95" fill="#5555ff"/>
<circle cx="364.80" cy="256.15" r="2.95" fill="#5555ff"/>
<circle cx="382.90" cy="266.15" r="2.95" fill="#5555ff"/>
<circle cx="382.90" cy="268.29" r="2.95" fill="#5555ff"/>
<circle cx="401.00" cy="271.62" r="2.95" fill="#5555ff"/>
<circle cx="401.00" cy="274.96" r="2.95" fill="#5555ff"/>
<circle cx="419.10" cy="277.69" r="2.95" fill="#5555ff"/>
<circle cx="419.10" cy="277.69" r="2.95" fill="#5555ff"/>
<circle cx="437.20" cy="281.50" r="2.95" fill="#5555ff"/>
<circle cx="437.20" cy="281.50" r="2.95" fill="#5555ff"/>
<circle cx="274.30" cy="273.05" r="2.95" fill="#00c000"/>
<circle cx="274.30" cy="282.45" r="2.95" fill="#00c000"/>
<circle cx="292.40" cy="271.98" r="2.95" fill="#00c000"/>
<circle cx="292.40" cy="280.31" r="2.95" fill="#00c000"/>
<circle cx="310.50" cy="274.48" r="2.95" fill="#00c000"/>
<circle cx="310.50" cy="280.31" r="2.95" fill="#00c000"/>
<circle cx="328.60" cy="275.79" r="2.95" fill="#00c000"/>
<circle cx="328.60" cy="280.31" r="2.95" fill="#00c000"/>
<circle cx="346.70" cy="280.31" r="2.95" fill="#00c000"/>
<circle cx="346.70" cy="280.31" r="2.95" fill="#00c000"/>
<circle cx="364.80" cy="279.12" r="2.95" fill="#00c000"/>
<circle cx="364.80" cy="281.98" r="2.95" fill="#00c000"/>
<circle cx="382.90" cy="280.67" r="2.95" fill="#00c000"/>
<circle cx="382.90" cy="282.81" r="2.95" fill="#00c000"/>
<circle cx="401.00" cy="281.50" r="2.95" fill="#00c000"/>
<circle cx="401.00" cy="281.50" r="2.95" fill="#00c000"/>
<circle cx="419.10" cy="281.14" r="2.95" fill="#00c000"/>
<circle cx="419.10" cy="285.31" r="2.95" fill="#00c000"/>
<circle cx="437.20" cy="285.31" r="2.95" fill="#00c000"/>
<circle cx="437.20" cy="285.31" r="2.95" fill="#00c000"/>
<path d="M268.40,161.0 V286.50 H456.00" fill="none" stroke="#2a2a2a" stroke-width="1"/>
<line x1="265.80" y1="286.50" x2="268.40" y2="286.50" stroke="#2a2a2a" stroke-width="0.9"/>
<text x="265.00" y="289.30" font-size="9.5" text-anchor="end" fill="#1a1a1a" stroke="#1a1a1a" stroke-width="0.1">0</text>
<line x1="266.80" y1="271.62" x2="268.40" y2="271.62" stroke="#2a2a2a" stroke-width="0.9"/>
<line x1="265.80" y1="256.75" x2="268.40" y2="256.75" stroke="#2a2a2a" stroke-width="0.9"/>
<text x="265.00" y="259.55" font-size="9.5" text-anchor="end" fill="#1a1a1a" stroke="#1a1a1a" stroke-width="0.1">25</text>
<line x1="266.80" y1="241.88" x2="268.40" y2="241.88" stroke="#2a2a2a" stroke-width="0.9"/>
<line x1="265.80" y1="227.00" x2="268.40" y2="227.00" stroke="#2a2a2a" stroke-width="0.9"/>
<text x="265.00" y="229.80" font-size="9.5" text-anchor="end" fill="#1a1a1a" stroke="#1a1a1a" stroke-width="0.1">50</text>
<line x1="266.80" y1="212.12" x2="268.40" y2="212.12" stroke="#2a2a2a" stroke-width="0.9"/>
<line x1="265.80" y1="197.25" x2="268.40" y2="197.25" stroke="#2a2a2a" stroke-width="0.9"/>
<text x="265.00" y="200.05" font-size="9.5" text-anchor="end" fill="#1a1a1a" stroke="#1a1a1a" stroke-width="0.1">75</text>
<line x1="266.80" y1="182.38" x2="268.40" y2="182.38" stroke="#2a2a2a" stroke-width="0.9"/>
<line x1="265.80" y1="167.50" x2="268.40" y2="167.50" stroke="#2a2a2a" stroke-width="0.9"/>
<text x="265.00" y="170.30" font-size="9.5" text-anchor="end" fill="#1a1a1a" stroke="#1a1a1a" stroke-width="0.1">100</text>
<line x1="274.30" y1="286.50" x2="274.30" y2="288.90" stroke="#2a2a2a" stroke-width="0.9"/>
<text x="274.30" y="297.00" font-size="9.5" text-anchor="middle" fill="#1a1a1a" stroke="#1a1a1a" stroke-width="0.1">10</text>
<line x1="310.50" y1="286.50" x2="310.50" y2="288.90" stroke="#2a2a2a" stroke-width="0.9"/>
<text x="310.50" y="297.00" font-size="9.5" text-anchor="middle" fill="#1a1a1a" stroke="#1a1a1a" stroke-width="0.1">40</text>
<line x1="346.70" y1="286.50" x2="346.70" y2="288.90" stroke="#2a2a2a" stroke-width="0.9"/>
<text x="346.70" y="297.00" font-size="9.5" text-anchor="middle" fill="#1a1a1a" stroke="#1a1a1a" stroke-width="0.1">160</text>
<line x1="382.90" y1="286.50" x2="382.90" y2="288.90" stroke="#2a2a2a" stroke-width="0.9"/>
<text x="382.90" y="297.00" font-size="9.5" text-anchor="middle" fill="#1a1a1a" stroke="#1a1a1a" stroke-width="0.1">640</text>
<line x1="419.10" y1="286.50" x2="419.10" y2="288.90" stroke="#2a2a2a" stroke-width="0.9"/>
<text x="419.10" y="297.00" font-size="9.5" text-anchor="middle" fill="#1a1a1a" stroke="#1a1a1a" stroke-width="0.1">2560</text>
<line x1="455.30" y1="286.50" x2="455.30" y2="288.90" stroke="#2a2a2a" stroke-width="0.9"/>
<text x="455.30" y="297.00" font-size="9.5" text-anchor="middle" fill="#1a1a1a" stroke="#1a1a1a" stroke-width="0.1">10240</text>
<path d="M490.50,278.65 L508.60,275.79 L526.70,276.74 L544.80,279.36 L562.90,268.06 L581.00,272.81 L599.10,280.31 L617.20,281.03 L635.30,282.75 L653.40,283.70" fill="none" stroke="#00c000" stroke-width="1.1"/>
<path d="M490.50,167.39 L493.26,167.75 L496.02,168.15 L498.78,168.59 L501.54,169.09 L504.31,169.64 L507.07,170.26 L509.83,170.93 L512.59,171.69 L515.35,172.52 L518.11,173.44 L520.87,174.45 L523.63,175.56 L526.39,176.78 L529.15,178.12 L531.92,179.58 L534.68,181.17 L537.44,182.90 L540.20,184.77 L542.96,186.78 L545.72,188.94 L548.48,191.26 L551.24,193.72 L554.00,196.33 L556.76,199.08 L559.53,201.96 L562.29,204.96 L565.05,208.08 L567.81,211.28 L570.57,214.57 L573.33,217.91 L576.09,221.29 L578.85,224.68 L581.61,228.06 L584.37,231.41 L587.14,234.71 L589.90,237.93 L592.66,241.07 L595.42,244.10 L598.18,247.01 L600.94,249.79 L603.70,252.43 L606.46,254.93 L609.22,257.27 L611.98,259.47 L614.75,261.52 L617.51,263.42 L620.27,265.18 L623.03,266.80 L625.79,268.29 L628.55,269.65 L631.31,270.90 L634.07,272.04 L636.83,273.07 L639.59,274.01 L642.36,274.86 L645.12,275.63 L647.88,276.32 L650.64,276.95 L653.40,277.52" fill="none" stroke="#b955dc" stroke-width="1.1"/>
<path d="M490.50,169.64 L493.26,171.93 L496.02,174.29 L498.78,176.74 L501.54,179.25 L504.31,181.84 L507.07,184.49 L509.83,187.20 L512.59,189.96 L515.35,192.77 L518.11,195.62 L520.87,198.49 L523.63,201.39 L526.39,204.31 L529.15,207.23 L531.92,210.14 L534.68,213.05 L537.44,215.94 L540.20,218.79 L542.96,221.62 L545.72,224.40 L548.48,227.13 L551.24,229.80 L554.00,232.41 L556.76,234.95 L559.53,237.43 L562.29,239.82 L565.05,242.14 L567.81,244.37 L570.57,246.52 L573.33,248.58 L576.09,250.56 L578.85,252.46 L581.61,254.26 L584.37,255.99 L587.14,257.62 L589.90,259.18 L592.66,260.65 L595.42,262.05 L598.18,263.37 L600.94,264.62 L603.70,265.79 L606.46,266.90 L609.22,267.94 L611.98,268.92 L614.75,269.84 L617.51,270.71 L620.27,271.51 L623.03,272.27 L625.79,272.98 L628.55,273.64 L631.31,274.26 L634.07,274.84 L636.83,275.38 L639.59,275.88 L642.36,276.35 L645.12,276.79 L647.88,277.20 L650.64,277.58 L653.40,277.93" fill="none" stroke="#5555ff" stroke-width="1.1"/>
<circle cx="490.50" cy="167.02" r="2.95" fill="#b955dc"/>
<circle cx="490.50" cy="167.02" r="2.95" fill="#b955dc"/>
<circle cx="508.60" cy="168.69" r="2.95" fill="#b955dc"/>
<circle cx="508.60" cy="172.02" r="2.95" fill="#b955dc"/>
<circle cx="526.70" cy="176.54" r="2.95" fill="#b955dc"/>
<circle cx="526.70" cy="177.62" r="2.95" fill="#b955dc"/>
<circle cx="544.80" cy="184.52" r="2.95" fill="#b955dc"/>
<circle cx="544.80" cy="196.06" r="2.95" fill="#b955dc"/>
<circle cx="562.90" cy="202.01" r="2.95" fill="#b955dc"/>
<circle cx="562.90" cy="204.39" r="2.95" fill="#b955dc"/>
<circle cx="581.00" cy="224.50" r="2.95" fill="#b955dc"/>
<circle cx="581.00" cy="231.64" r="2.95" fill="#b955dc"/>
<circle cx="599.10" cy="246.16" r="2.95" fill="#b955dc"/>
<circle cx="599.10" cy="249.49" r="2.95" fill="#b955dc"/>
<circle cx="617.20" cy="264.01" r="2.95" fill="#b955dc"/>
<circle cx="617.20" cy="264.01" r="2.95" fill="#b955dc"/>
<circle cx="635.30" cy="271.98" r="2.95" fill="#b955dc"/>
<circle cx="635.30" cy="271.98" r="2.95" fill="#b955dc"/>
<circle cx="653.40" cy="277.46" r="2.95" fill="#b955dc"/>
<circle cx="653.40" cy="277.46" r="2.95" fill="#b955dc"/>
<circle cx="490.50" cy="170.59" r="2.95" fill="#5555ff"/>
<circle cx="490.50" cy="172.50" r="2.95" fill="#5555ff"/>
<circle cx="508.60" cy="180.35" r="2.95" fill="#5555ff"/>
<circle cx="508.60" cy="184.52" r="2.95" fill="#5555ff"/>
<circle cx="526.70" cy="203.56" r="2.95" fill="#5555ff"/>
<circle cx="526.70" cy="205.34" r="2.95" fill="#5555ff"/>
<circle cx="544.80" cy="226.05" r="2.95" fill="#5555ff"/>
<circle cx="544.80" cy="227.00" r="2.95" fill="#5555ff"/>
<circle cx="562.90" cy="240.57" r="2.95" fill="#5555ff"/>
<circle cx="562.90" cy="240.57" r="2.95" fill="#5555ff"/>
<circle cx="581.00" cy="252.47" r="2.95" fill="#5555ff"/>
<circle cx="581.00" cy="254.49" r="2.95" fill="#5555ff"/>
<circle cx="599.10" cy="260.32" r="2.95" fill="#5555ff"/>
<circle cx="599.10" cy="263.65" r="2.95" fill="#5555ff"/>
<circle cx="617.20" cy="268.29" r="2.95" fill="#5555ff"/>
<circle cx="617.20" cy="271.15" r="2.95" fill="#5555ff"/>
<circle cx="635.30" cy="274.48" r="2.95" fill="#5555ff"/>
<circle cx="635.30" cy="276.62" r="2.95" fill="#5555ff"/>
<circle cx="653.40" cy="279.12" r="2.95" fill="#5555ff"/>
<circle cx="653.40" cy="279.12" r="2.95" fill="#5555ff"/>
<circle cx="490.50" cy="276.62" r="2.95" fill="#00c000"/>
<circle cx="490.50" cy="280.67" r="2.95" fill="#00c000"/>
<circle cx="508.60" cy="275.79" r="2.95" fill="#00c000"/>
<circle cx="508.60" cy="275.79" r="2.95" fill="#00c000"/>
<circle cx="526.70" cy="276.15" r="2.95" fill="#00c000"/>
<circle cx="526.70" cy="277.34" r="2.95" fill="#00c000"/>
<circle cx="544.80" cy="278.65" r="2.95" fill="#00c000"/>
<circle cx="544.80" cy="280.07" r="2.95" fill="#00c000"/>
<circle cx="562.90" cy="266.15" r="2.95" fill="#00c000"/>
<circle cx="562.90" cy="269.96" r="2.95" fill="#00c000"/>
<circle cx="581.00" cy="272.81" r="2.95" fill="#00c000"/>
<circle cx="581.00" cy="272.81" r="2.95" fill="#00c000"/>
<circle cx="599.10" cy="280.31" r="2.95" fill="#00c000"/>
<circle cx="599.10" cy="280.31" r="2.95" fill="#00c000"/>
<circle cx="617.20" cy="281.03" r="2.95" fill="#00c000"/>
<circle cx="617.20" cy="281.03" r="2.95" fill="#00c000"/>
<circle cx="635.30" cy="281.03" r="2.95" fill="#00c000"/>
<circle cx="635.30" cy="284.48" r="2.95" fill="#00c000"/>
<circle cx="653.40" cy="281.62" r="2.95" fill="#00c000"/>
<circle cx="653.40" cy="285.79" r="2.95" fill="#00c000"/>
<path d="M484.60,161.0 V286.50 H672.00" fill="none" stroke="#2a2a2a" stroke-width="1"/>
<line x1="482.00" y1="286.50" x2="484.60" y2="286.50" stroke="#2a2a2a" stroke-width="0.9"/>
<text x="481.20" y="289.30" font-size="9.5" text-anchor="end" fill="#1a1a1a" stroke="#1a1a1a" stroke-width="0.1">0</text>
<line x1="483.00" y1="271.62" x2="484.60" y2="271.62" stroke="#2a2a2a" stroke-width="0.9"/>
<line x1="482.00" y1="256.75" x2="484.60" y2="256.75" stroke="#2a2a2a" stroke-width="0.9"/>
<text x="481.20" y="259.55" font-size="9.5" text-anchor="end" fill="#1a1a1a" stroke="#1a1a1a" stroke-width="0.1">25</text>
<line x1="483.00" y1="241.88" x2="484.60" y2="241.88" stroke="#2a2a2a" stroke-width="0.9"/>
<line x1="482.00" y1="227.00" x2="484.60" y2="227.00" stroke="#2a2a2a" stroke-width="0.9"/>
<text x="481.20" y="229.80" font-size="9.5" text-anchor="end" fill="#1a1a1a" stroke="#1a1a1a" stroke-width="0.1">50</text>
<line x1="483.00" y1="212.12" x2="484.60" y2="212.12" stroke="#2a2a2a" stroke-width="0.9"/>
<line x1="482.00" y1="197.25" x2="484.60" y2="197.25" stroke="#2a2a2a" stroke-width="0.9"/>
<text x="481.20" y="200.05" font-size="9.5" text-anchor="end" fill="#1a1a1a" stroke="#1a1a1a" stroke-width="0.1">75</text>
<line x1="483.00" y1="182.38" x2="484.60" y2="182.38" stroke="#2a2a2a" stroke-width="0.9"/>
<line x1="482.00" y1="167.50" x2="484.60" y2="167.50" stroke="#2a2a2a" stroke-width="0.9"/>
<text x="481.20" y="170.30" font-size="9.5" text-anchor="end" fill="#1a1a1a" stroke="#1a1a1a" stroke-width="0.1">100</text>
<line x1="490.50" y1="286.50" x2="490.50" y2="288.90" stroke="#2a2a2a" stroke-width="0.9"/>
<text x="490.50" y="297.00" font-size="9.5" text-anchor="middle" fill="#1a1a1a" stroke="#1a1a1a" stroke-width="0.1">10</text>
<line x1="526.70" y1="286.50" x2="526.70" y2="288.90" stroke="#2a2a2a" stroke-width="0.9"/>
<text x="526.70" y="297.00" font-size="9.5" text-anchor="middle" fill="#1a1a1a" stroke="#1a1a1a" stroke-width="0.1">40</text>
<line x1="562.90" y1="286.50" x2="562.90" y2="288.90" stroke="#2a2a2a" stroke-width="0.9"/>
<text x="562.90" y="297.00" font-size="9.5" text-anchor="middle" fill="#1a1a1a" stroke="#1a1a1a" stroke-width="0.1">160</text>
<line x1="599.10" y1="286.50" x2="599.10" y2="288.90" stroke="#2a2a2a" stroke-width="0.9"/>
<text x="599.10" y="297.00" font-size="9.5" text-anchor="middle" fill="#1a1a1a" stroke="#1a1a1a" stroke-width="0.1">640</text>
<line x1="635.30" y1="286.50" x2="635.30" y2="288.90" stroke="#2a2a2a" stroke-width="0.9"/>
<text x="635.30" y="297.00" font-size="9.5" text-anchor="middle" fill="#1a1a1a" stroke="#1a1a1a" stroke-width="0.1">2560</text>
<line x1="671.50" y1="286.50" x2="671.50" y2="288.90" stroke="#2a2a2a" stroke-width="0.9"/>
<text x="671.50" y="297.00" font-size="9.5" text-anchor="middle" fill="#1a1a1a" stroke="#1a1a1a" stroke-width="0.1">10240</text>
<text transform="translate(27.0,266.5) rotate(-90)" x="0" y="0" font-size="11.1" fill="#111" stroke="#111" stroke-width="0.22" textLength="82.4" lengthAdjust="spacingAndGlyphs">NA inhibition (%)</text>
<rect x="222.9" y="320.2" width="287.4" height="20.8" fill="none" stroke="#2a2a2a" stroke-width="1"/>
<circle cx="231.6" cy="333.1" r="3.3" fill="#00c000"/>
<circle cx="330.6" cy="332.9" r="3.3" fill="#5555ff"/>
<circle cx="429.6" cy="332.9" r="3.3" fill="#b955dc"/>
<text x="-0.75" y="15.9" font-size="27.5" font-weight="bold" fill="#1a1a1a" stroke="#1a1a1a" stroke-width="0.1" textLength="14.3" lengthAdjust="spacingAndGlyphs">a</text>
<text x="54.40" y="17.50" font-size="11.50" fill="#1a1a1a" stroke="#1a1a1a" stroke-width="0.1">PR8</text>
<text x="75.94" y="12.60" font-size="8.41" fill="#1a1a1a" stroke="#1a1a1a" stroke-width="0.1">H6/N1-GD19</text>
<text x="141.99" y="17.20" font-size="11.61" fill="#1a1a1a" stroke="#1a1a1a" stroke-width="0.1">PR8</text>
<text x="163.84" y="12.40" font-size="8.42" fill="#1a1a1a" stroke="#1a1a1a" stroke-width="0.1">H6/N2-HK19e</text>
<text x="232.12" y="17.20" font-size="11.22" fill="#1a1a1a" stroke="#1a1a1a" stroke-width="0.1">PR8</text>
<text x="253.54" y="12.40" font-size="8.41" fill="#1a1a1a" stroke="#1a1a1a" stroke-width="0.1">H6/N2-HK19c</text>
<text x="26.53" y="35.70" font-size="9.82" fill="#111" stroke="#111" stroke-width="0.18">HA (H6)</text>
<text x="17.24" y="58.60" font-size="9.74" fill="#111" stroke="#111" stroke-width="0.18">NA (N1)</text>
<text x="142.35" y="35.10" font-size="9.57" fill="#111" stroke="#111" stroke-width="0.18">H6</text>
<text x="132.98" y="58.70" font-size="9.23" fill="#111" stroke="#111" stroke-width="0.18">N2</text>
<text x="232.05" y="34.60" font-size="9.66" fill="#111" stroke="#111" stroke-width="0.18">H6</text>
<text x="222.28" y="58.30" font-size="9.23" fill="#111" stroke="#111" stroke-width="0.18">N2</text>
<text x="55.93" y="108.10" font-size="11.12" fill="#1a1a1a" stroke="#1a1a1a" stroke-width="0.1">Egg and Cell</text>
<text x="151.33" y="108.10" font-size="11.19" fill="#1a1a1a" stroke="#1a1a1a" stroke-width="0.1">Egg-based</text>
<text x="246.38" y="108.10" font-size="11.14" fill="#1a1a1a" stroke="#1a1a1a" stroke-width="0.1">Cell-based</text>
<text x="350.77" y="28.70" font-size="11.91" fill="#1a1a1a" stroke="#1a1a1a" stroke-width="0.1">Intranasal</text>
<text x="348.87" y="40.40" font-size="11.71" fill="#1a1a1a" stroke="#1a1a1a" stroke-width="0.1">inoculation</text>
<text x="515.15" y="51.60" font-size="11.74" fill="#1a1a1a" stroke="#1a1a1a" stroke-width="0.1">21 days</text>
<text x="586.17" y="59.90" font-size="11.22" fill="#1a1a1a" stroke="#1a1a1a" stroke-width="0.1">Collect sera</text>
<text x="572.70" y="72.80" font-size="11.23" fill="#1a1a1a" stroke="#1a1a1a" stroke-width="0.1">1. <tspan font-family="Liberation Serif" font-style="italic" font-size="12.58">α</tspan>-H6/N1-GD19</text>
<text x="569.07" y="85.30" font-size="11.37" fill="#1a1a1a" stroke="#1a1a1a" stroke-width="0.1">2. <tspan font-family="Liberation Serif" font-style="italic" font-size="12.73">α</tspan>-H6/N2-HK19e</text>
<text x="569.65" y="97.70" font-size="11.34" fill="#1a1a1a" stroke="#1a1a1a" stroke-width="0.1">3. <tspan font-family="Liberation Serif" font-style="italic" font-size="12.70">α</tspan>-H6/N2-HK19c</text>
<text x="-0.55" y="146.30" font-size="27.93" fill="#1a1a1a" stroke="#1a1a1a" stroke-width="0.1"><tspan font-weight="bold">b</tspan></text>
<text x="53.19" y="151.00" font-size="12.99" fill="#18a418" stroke="#18a418" stroke-width="0.1">N1-GD19 Antisera Titration</text>
<text x="276.18" y="150.90" font-size="13.01" fill="#5555ff" stroke="#5555ff" stroke-width="0.1">N2-HK19e Antisera Titration</text>
<text x="498.19" y="151.00" font-size="12.96" fill="#b955dc" stroke="#b955dc" stroke-width="0.1">N2-HK19c Antisera Titration</text>
<text x="67.60" y="311.70" font-size="11.34" fill="#1a1a1a" stroke="#1a1a1a" stroke-width="0.1"><tspan font-family="Liberation Serif" font-style="italic" font-size="12.70">α</tspan>-N1-GD19 dilution factor</text>
<text x="292.60" y="311.70" font-size="11.28" fill="#1a1a1a" stroke="#1a1a1a" stroke-width="0.1"><tspan font-family="Liberation Serif" font-style="italic" font-size="12.63">α</tspan>-N2-HK19e dilution factor</text>
<text x="514.00" y="311.70" font-size="11.21" fill="#1a1a1a" stroke="#1a1a1a" stroke-width="0.1"><tspan font-family="Liberation Serif" font-style="italic" font-size="12.56">α</tspan>-N2-HK19c dilution factor</text>
<text x="238.59" y="335.80" font-size="12.95" fill="#1a1a1a" stroke="#1a1a1a" stroke-width="0.1">PR8</text>
<text x="263.27" y="331.00" font-size="9.40" fill="#1a1a1a" stroke="#1a1a1a" stroke-width="0.1">N1-GD19</text>
<text x="336.59" y="335.80" font-size="12.95" fill="#1a1a1a" stroke="#1a1a1a" stroke-width="0.1">PR8</text>
<text x="360.97" y="331.00" font-size="9.40" fill="#1a1a1a" stroke="#1a1a1a" stroke-width="0.1">N2-HK19e</text>
<text x="436.29" y="335.80" font-size="12.95" fill="#1a1a1a" stroke="#1a1a1a" stroke-width="0.1">PR8</text>
<text x="461.37" y="331.00" font-size="9.40" fill="#1a1a1a" stroke="#1a1a1a" stroke-width="0.1">N2-HK19c</text>
</svg>
</body></html>
